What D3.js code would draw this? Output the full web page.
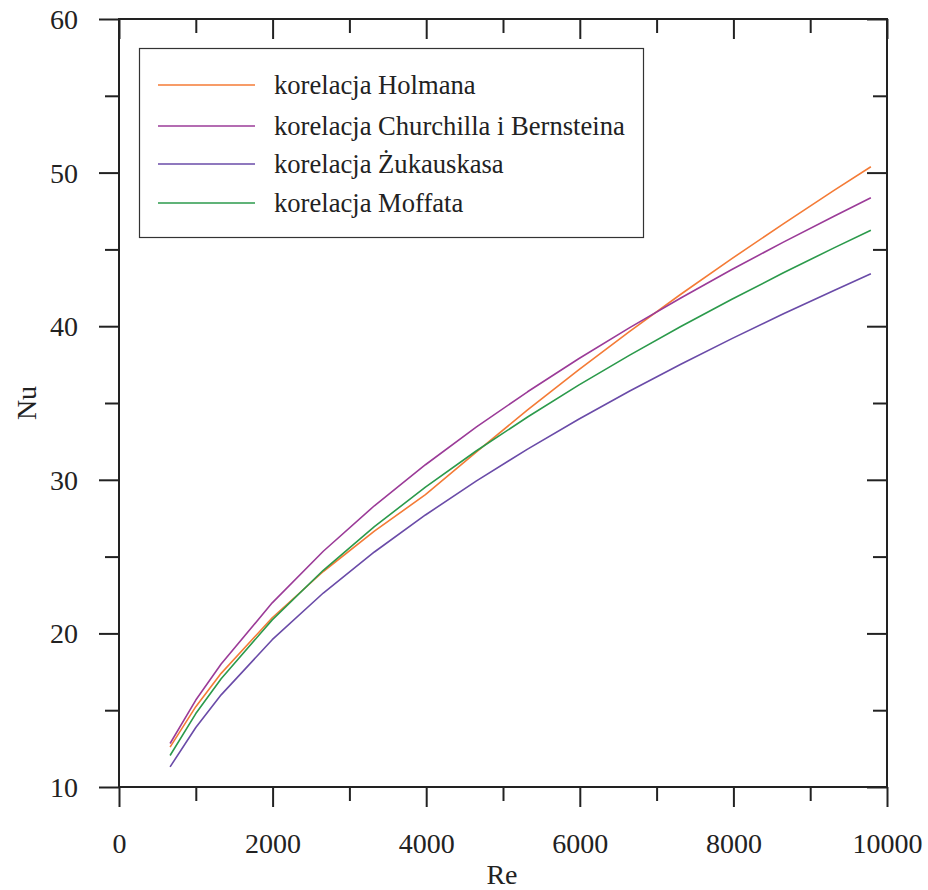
<!DOCTYPE html>
<html>
<head>
<meta charset="utf-8">
<script src="https://cdn.jsdelivr.net/npm/d3@7"></script>
<style>
  html, body { margin: 0; padding: 0; background: #fff; }
  svg { display: block; }
  text { font-family: "Liberation Serif", "Times New Roman", serif; fill: #222; }
</style>
</head>
<body>
<svg id="chart" width="928" height="890"></svg>
<script>
// ---- data ----
const re = [665, 1000, 1330, 1995, 2660, 3325, 3990, 4655, 5320, 5985, 6650, 7315, 7980, 8645, 9310, 9790];
const holman    = [12.60, 15.23, 17.40, 21.02, 24.03, 26.66, 29.03, 31.82, 34.55, 37.16, 39.67, 42.08, 44.40, 46.65, 48.84, 50.38];
const churchill = [12.83, 15.66, 18.01, 21.99, 25.35, 28.31, 30.98, 33.44, 35.73, 37.88, 39.91, 41.84, 43.69, 45.46, 47.16, 48.36];
const zukauskas = [11.31, 13.87, 16.00, 19.59, 22.63, 25.30, 27.71, 29.93, 32.00, 33.94, 35.78, 37.52, 39.19, 40.79, 42.33, 43.41];
const moffat    = [12.05, 14.78, 17.05, 20.88, 24.11, 26.95, 29.52, 31.89, 34.09, 36.16, 38.12, 39.98, 41.75, 43.46, 45.10, 46.25];
const seriesNames = ["korelacja Holmana", "korelacja Churchilla i Bernsteina", "korelacja Żukauskasa", "korelacja Moffata"];
const seriesColors = ["#f47b36", "#9b3b98", "#6a4ba8", "#2b9a4b"];
const xMajorTicks = [0, 2000, 4000, 6000, 8000, 10000];
const xMinorTicks = [1000, 3000, 5000, 7000, 9000];
const yMajorTicks = [10, 20, 30, 40, 50, 60];
const yMinorTicks = [15, 25, 35, 45, 55];
const xTitle = "Re";
const yTitle = "Nu";

const allSeries = [holman, churchill, zukauskas, moffat];

(function () {
  const svg = d3.select("#chart");
  const L = 119, R = 887, T = 19, B = 787;
  const x = d3.scaleLinear().domain([0, 10000]).range([L, R]);
  const y = d3.scaleLinear().domain([10, 60]).range([B, T]);
  const frameColor = "#222";
  const major = 20, minor = 14;

  const line = d3.line().x((d, i) => x(re[i])).y(d => y(d));
  allSeries.forEach((s, k) => {
    svg.append("path")
      .datum(s)
      .attr("fill", "none")
      .attr("stroke", seriesColors[k])
      .attr("stroke-width", 1.6)
      .attr("stroke-linejoin", "round")
      .attr("d", line);
  });

  // bottom axis (ticks outward)
  const gBottom = svg.append("g").attr("transform", `translate(0,${B})`);
  gBottom.call(d3.axisBottom(x).tickValues(xMajorTicks).tickSize(major).tickFormat(d3.format("d")))
    .call(g => g.select(".domain").remove());
  gBottom.append("g").call(d3.axisBottom(x).tickValues(xMinorTicks).tickSize(minor).tickFormat(""))
    .call(g => g.select(".domain").remove());
  gBottom.selectAll("line").attr("stroke", frameColor).attr("stroke-width", 2);
  gBottom.selectAll("text").attr("font-size", 28).attr("dy", null).attr("y", 66)
    .attr("font-family", "Liberation Serif").attr("fill", "#222");

  // top axis (ticks inward)
  const gTop = svg.append("g").attr("transform", `translate(0,${T})`);
  gTop.call(d3.axisBottom(x).tickValues(xMajorTicks).tickSize(major).tickFormat(""))
    .call(g => g.select(".domain").remove());
  gTop.append("g").call(d3.axisBottom(x).tickValues(xMinorTicks).tickSize(minor).tickFormat(""))
    .call(g => g.select(".domain").remove());
  gTop.selectAll("line").attr("stroke", frameColor).attr("stroke-width", 2);

  // left axis (ticks outward)
  const gLeft = svg.append("g").attr("transform", `translate(${L},0)`);
  gLeft.call(d3.axisLeft(y).tickValues(yMajorTicks).tickSize(major).tickFormat(d3.format("d")))
    .call(g => g.select(".domain").remove());
  gLeft.append("g").call(d3.axisLeft(y).tickValues(yMinorTicks).tickSize(minor).tickFormat(""))
    .call(g => g.select(".domain").remove());
  gLeft.selectAll("line").attr("stroke", frameColor).attr("stroke-width", 2);
  gLeft.selectAll("text").attr("font-size", 28).attr("x", -41).attr("dy", "0.34em")
    .attr("font-family", "Liberation Serif").attr("fill", "#222");

  // right axis (ticks inward)
  const gRight = svg.append("g").attr("transform", `translate(${R},0)`);
  gRight.call(d3.axisLeft(y).tickValues(yMajorTicks).tickSize(major).tickFormat(""))
    .call(g => g.select(".domain").remove());
  gRight.append("g").call(d3.axisLeft(y).tickValues(yMinorTicks).tickSize(minor).tickFormat(""))
    .call(g => g.select(".domain").remove());
  gRight.selectAll("line").attr("stroke", frameColor).attr("stroke-width", 2);

  // frame
  svg.append("rect")
    .attr("x", L).attr("y", T).attr("width", R - L).attr("height", B - T)
    .attr("fill", "none").attr("stroke", frameColor).attr("stroke-width", 2);

  // axis titles
  svg.append("text").attr("x", (L + R) / 2 - 1).attr("y", 884)
    .attr("text-anchor", "middle").attr("font-size", 28).text(xTitle);
  svg.append("text").attr("transform", `translate(36,${(T + B) / 2}) rotate(-90)`)
    .attr("text-anchor", "middle").attr("font-size", 28).text(yTitle);

  // legend
  const lg = svg.append("g");
  lg.append("rect").attr("x", 139.5).attr("y", 48.5).attr("width", 504).attr("height", 189)
    .attr("fill", "#fff").attr("stroke", "#333").attr("stroke-width", 1.2);
  const rowY = [85, 126, 164, 203];
  seriesNames.forEach((n, k) => {
    lg.append("line").attr("x1", 158).attr("x2", 255).attr("y1", rowY[k]).attr("y2", rowY[k])
      .attr("stroke", seriesColors[k]).attr("stroke-width", 1.6);
    lg.append("text").attr("x", 274).attr("y", rowY[k] + 9).attr("font-size", 26.6).text(n);
  });
})();
</script>
</body>
</html>
